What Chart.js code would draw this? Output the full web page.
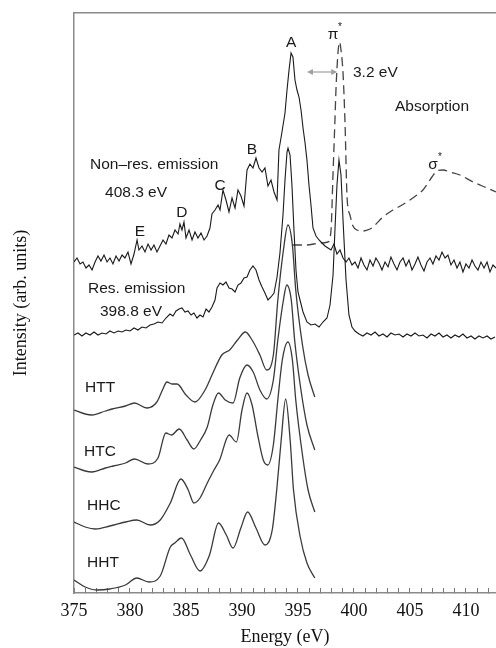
<!DOCTYPE html>
<html>
<head>
<meta charset="utf-8">
<script src="https://cdn.jsdelivr.net/npm/chart.js@4.4.0/dist/chart.umd.min.js"></script>
<style>
  html, body { margin: 0; padding: 0; background: #fff; }
  #wrap { width: 496px; height: 648px; position: relative; }
</style>
</head>
<body>
<div id="wrap"><canvas id="chart"></canvas></div>
<script>
// tick labels of the energy axis
const energyTicks = [375, 380, 385, 390, 395, 400, 405, 410];

// non-resonant emission (excited at 408.3 eV)
const nonResE = [
  375.00, 375.27, 375.54, 375.80, 376.07, 376.34, 376.61, 376.88, 377.14, 377.41,
  377.68, 377.95, 378.21, 378.48, 378.75, 379.02, 379.29, 379.55, 379.82, 380.09,
  380.36, 380.63, 380.80, 381.07, 381.34, 381.61, 381.88, 382.14, 382.41, 382.68,
  382.95, 383.21, 383.48, 383.75, 384.02, 384.29, 384.46, 384.64, 384.82, 385.00,
  385.27, 385.54, 385.80, 386.07, 386.34, 386.61, 386.88, 387.14, 387.32, 387.59,
  387.86, 388.04, 388.30, 388.57, 388.84, 389.11, 389.38, 389.64, 389.91, 390.18,
  390.45, 390.71, 390.98, 391.25, 391.52, 391.79, 392.05, 392.32, 392.59, 392.86,
  393.13, 393.30, 393.57, 393.84, 394.02, 394.20, 394.38, 394.55, 394.73, 394.91,
  395.09, 395.27, 395.45, 395.63, 395.80, 395.98, 396.16, 396.34, 396.61, 396.88,
  397.14, 397.41, 397.68, 397.95, 398.21, 398.48, 398.75, 399.02, 399.29, 399.55,
  399.82, 400.09, 400.36, 400.63, 400.89, 401.16, 401.43, 401.70, 401.96, 402.23,
  402.50, 402.77, 403.04, 403.30, 403.57, 403.84, 404.11, 404.38, 404.64, 404.91,
  405.18, 405.45, 405.71, 405.98, 406.25, 406.52, 406.79, 407.05, 407.32, 407.59,
  407.86, 408.13, 408.39, 408.66, 408.93, 409.20, 409.46, 409.73, 410.00, 410.27,
  410.54, 410.80, 411.07, 411.34, 411.61, 411.88, 412.14, 412.41, 412.68
];
const nonResI = [
  331, 335, 329, 331, 325, 328, 323, 331, 337, 332,
  338, 331, 335, 329, 337, 332, 338, 335, 341, 329,
  339, 353, 343, 347, 341, 349, 343, 348, 341, 347,
  353, 349, 358, 355, 363, 359, 369, 363, 371, 355,
  363, 353, 361, 355, 360, 353, 357, 365, 379, 383,
  388, 383, 403, 393, 381, 395, 385, 403, 397, 387,
  423, 429, 425, 435, 425, 421, 425, 407, 413, 401,
  393, 443, 461, 480, 503, 523, 540, 536, 513, 503,
  496, 483, 465, 450, 433, 408, 388, 365, 357, 353,
  350, 347, 345, 343, 349, 339, 343, 335, 331, 335,
  328, 331, 325, 335, 328, 323, 333, 327, 335, 330,
  323, 331, 326, 336, 329, 323, 331, 335, 327, 333,
  323, 329, 336, 328, 322, 331, 335, 329, 337, 333,
  341, 335, 338, 328, 333, 325, 331, 321, 329, 325,
  333, 327, 323, 331, 325, 331, 321, 328, 325
];

// resonant emission (excited at 398.8 eV)
const resE = [
  375.00, 375.36, 375.71, 376.07, 376.43, 376.79, 377.14, 377.50, 377.86, 378.21,
  378.57, 378.93, 379.29, 379.64, 380.00, 380.36, 380.71, 381.07, 381.43, 381.79,
  382.14, 382.50, 382.86, 383.21, 383.57, 383.84, 384.11, 384.38, 384.64, 384.91,
  385.18, 385.45, 385.71, 385.98, 386.25, 386.52, 386.79, 387.05, 387.32, 387.59,
  387.77, 388.04, 388.30, 388.57, 388.84, 389.11, 389.38, 389.64, 389.91, 390.18,
  390.45, 390.71, 390.98, 391.25, 391.52, 391.79, 392.05, 392.32, 392.59, 392.86,
  393.13, 393.39, 393.66, 393.84, 394.02, 394.11, 394.29, 394.46, 394.64, 394.82,
  395.00, 395.18, 395.45, 395.80, 396.16, 396.52, 396.88, 397.23, 397.59, 397.86,
  398.13, 398.30, 398.48, 398.66, 398.84, 399.02, 399.29, 399.55, 399.82, 400.09,
  400.45, 400.80, 401.16, 401.52, 401.88, 402.23, 402.59, 402.95, 403.30, 403.66,
  404.02, 404.38, 404.73, 405.09, 405.45, 405.80, 406.16, 406.52, 406.88, 407.23,
  407.59, 407.95, 408.30, 408.66, 409.02, 409.38, 409.73, 410.09, 410.45, 410.80,
  411.16, 411.52, 411.88, 412.23, 412.59
];
const resI = [
  258, 260, 257, 260, 258, 261, 258, 260, 259, 262,
  260, 262, 261, 263, 262, 265, 263, 266, 265, 268,
  269, 271, 270, 275, 279, 277, 282, 284, 285, 281,
  282, 278, 280, 275, 278, 276, 284, 281, 286, 293,
  305, 310, 308, 311, 305, 304, 301, 308, 310, 315,
  316, 323, 327, 323, 313, 306, 300, 293, 296, 300,
  316, 340, 378, 413, 441, 445, 438, 408, 363, 323,
  301, 293, 281, 271, 268, 269, 266, 271, 275, 288,
  318, 363, 408, 433, 418, 373, 313, 278, 266, 262,
  259, 257, 260, 258, 261, 257, 259, 256, 260, 258,
  259, 256, 259, 257, 260, 257, 258, 255, 259, 257,
  260, 256, 258, 255, 258, 256, 259, 255, 257, 254,
  257, 255, 257, 254, 256
];

// absorption (dashed)
const absE = [
  394.55, 395.80, 396.96, 397.68, 397.95, 398.13, 398.30, 398.39, 398.57, 398.71,
  398.84, 399.02, 399.20, 399.38, 399.64, 399.91, 400.27, 400.80, 401.43, 401.70,
  402.59, 403.48, 404.29, 405.00, 405.63, 406.16, 406.61, 406.96, 407.41, 407.95,
  408.57, 409.46, 410.63, 411.88, 412.68
];
const absI = [
  348, 348, 350, 351, 363, 420, 473, 503, 540, 551,
  543, 520, 470, 396, 378, 367, 363, 362, 364, 366,
  376, 383, 388, 393, 398, 403, 410, 416, 422, 423,
  421, 418, 411, 405, 401
];

// calculated spectra
const httE = [375.0, 376.0, 376.6, 377.8, 378.4, 379.6, 380.4, 381.5, 382.4, 382.9, 383.3, 383.75, 384.2, 385.0, 385.8, 386.7, 387.4, 388.2, 388.9, 389.6, 390.3, 390.9, 391.6, 392.2, 392.8, 393.2, 393.7, 394.1, 394.5, 394.8, 395.4, 395.9, 396.5];
const httI = [183, 179, 178, 182, 184, 187, 190, 185, 191, 203, 211, 209, 209, 198, 191, 203, 220, 238, 243, 253, 261, 253, 238, 223, 238, 293, 343, 368, 348, 303, 248, 218, 196];

const htcE = [375.0, 376.0, 376.6, 377.8, 378.5, 379.6, 380.4, 381.6, 382.5, 383.2, 383.7, 384.4, 385.1, 385.7, 386.3, 386.9, 387.4, 387.9, 388.5, 389.2, 389.8, 390.45, 391.0, 391.6, 392.2, 392.8, 393.2, 393.7, 394.0, 394.4, 394.7, 395.2, 395.8, 396.5];
const htcI = [126, 122, 121, 125, 127, 130, 134, 129, 135, 160, 158, 164, 153, 144, 153, 166, 188, 200, 193, 190, 215, 228, 221, 203, 194, 213, 253, 293, 308, 293, 253, 208, 168, 143];

const hhcE = [375.0, 376.0, 376.9, 378.2, 379.6, 380.6, 381.8, 382.7, 383.6, 384.55, 385.2, 385.7, 386.25, 386.9, 387.5, 388.0, 388.85, 389.5, 390.0, 390.45, 390.9, 391.4, 391.9, 392.3, 392.8, 393.2, 393.6, 394.1, 394.5, 394.8, 395.4, 395.9, 396.5];
const hhcI = [71, 66, 64, 67, 71, 73, 68, 73, 90, 114, 103, 90, 95, 110, 123, 133, 158, 151, 183, 200, 188, 158, 133, 128, 148, 193, 233, 251, 233, 193, 138, 103, 81];

const hhtE = [375.0, 376.0, 377.0, 378.2, 379.6, 380.6, 381.7, 382.7, 383.6, 384.0, 384.6, 385.4, 386.25, 387.1, 387.9, 388.6, 389.2, 389.9, 390.5, 391.25, 392.05, 392.7, 393.1, 393.5, 393.9, 394.3, 394.6, 395.2, 395.8, 396.5];
const hhtI = [13, 6, 3, 4, 8, 15, 11, 17, 46, 50, 55, 38, 22, 38, 70, 58, 45, 65, 81, 65, 48, 63, 103, 153, 194, 153, 103, 56, 30, 15];

// 3.2 eV shift arrow
const shiftFrom = 395.8, shiftTo = 398.5, shiftLevel = 521;

const serif = "'Liberation Serif', 'DejaVu Serif', serif";
const sans = "'Liberation Sans', Arial, sans-serif";

const notes = [
  { text: 'A', e: 394.38, i: 550, align: 'center' },
  { text: 'π', e: 398.13, i: 558, align: 'center', sup: '*' },
  { text: '3.2 eV', e: 399.91, i: 520 },
  { text: 'Absorption', e: 403.66, i: 486 },
  { text: 'σ', e: 407.05, i: 428, align: 'center', sup: '*' },
  { text: 'B', e: 390.89, i: 443, align: 'center' },
  { text: 'Non–res. emission', e: 376.43, i: 428 },
  { text: '408.3 eV', e: 377.77, i: 400 },
  { text: 'C', e: 388.04, i: 407, align: 'center' },
  { text: 'D', e: 384.64, i: 380, align: 'center' },
  { text: 'E', e: 380.89, i: 361, align: 'center' },
  { text: 'Res. emission', e: 376.25, i: 304 },
  { text: '398.8 eV', e: 377.32, i: 281 },
  { text: 'HTT', e: 375.98, i: 205 },
  { text: 'HTC', e: 375.89, i: 141 },
  { text: 'HHC', e: 376.16, i: 87 },
  { text: 'HHT', e: 376.16, i: 30 }
];

function series(es, is) {
  return es.map((e, k) => ({ x: e, y: is[k] }));
}

function noisy(data) {
  return { data, borderColor: '#1a1a1a', borderWidth: 1.1, pointRadius: 0, tension: 0, fill: false };
}

function model(data) {
  return { data, borderColor: '#3a3a3a', borderWidth: 1.3, pointRadius: 0, cubicInterpolationMode: 'monotone', fill: false };
}

// no extra side padding for the horizontal axes, the plot runs to the right edge
function flatSides(s) {
  s.paddingLeft = 0;
  s.paddingRight = 0;
}

const notesPlugin = {
  id: 'notes',
  afterDatasetsDraw(chart) {
    const { ctx, scales: { x, y } } = chart;
    ctx.save();

    // double arrow for the 3.2 eV shift
    const x1 = x.getPixelForValue(shiftFrom);
    const x2 = x.getPixelForValue(shiftTo);
    const yy = y.getPixelForValue(shiftLevel);
    ctx.strokeStyle = '#a0a0a0';
    ctx.fillStyle = '#a0a0a0';
    ctx.lineWidth = 1.2;
    ctx.beginPath();
    ctx.moveTo(x1 + 3, yy);
    ctx.lineTo(x2 - 3, yy);
    ctx.stroke();
    [[x1, 1], [x2, -1]].forEach(([px, d]) => {
      ctx.beginPath();
      ctx.moveTo(px, yy);
      ctx.lineTo(px + 6 * d, yy - 3);
      ctx.lineTo(px + 6 * d, yy + 3);
      ctx.closePath();
      ctx.fill();
    });

    ctx.fillStyle = '#1a1a1a';
    ctx.textBaseline = 'middle';
    notes.forEach(n => {
      const px = x.getPixelForValue(n.e);
      const py = y.getPixelForValue(n.i);
      ctx.font = '15.5px ' + sans;
      ctx.textAlign = n.align || 'left';
      ctx.fillText(n.text, px, py);
      if (n.sup) {
        ctx.font = '10px ' + sans;
        ctx.textAlign = 'left';
        ctx.fillText(n.sup, px + 5, py - 8);
      }
    });
    ctx.restore();
  }
};

new Chart(document.getElementById('chart'), {
  type: 'line',
  data: {
    datasets: [
      noisy(series(nonResE, nonResI)),
      noisy(series(resE, resI)),
      {
        data: series(absE, absI), borderColor: '#444', borderWidth: 1.3,
        borderDash: [9, 5], pointRadius: 0, cubicInterpolationMode: 'monotone', fill: false
      },
      model(series(httE, httI)),
      model(series(htcE, htcI)),
      model(series(hhcE, hhcI)),
      model(series(hhtE, hhtI))
    ]
  },
  options: {
    responsive: true,
    maintainAspectRatio: false,
    animation: false,
    layout: { padding: { top: 13, left: 0, right: 0, bottom: 0 } },
    plugins: { legend: { display: false }, tooltip: { enabled: false } },
    scales: {
      x: {
        type: 'linear', position: 'bottom', min: 375, max: 412.68,
        afterFit: s => { s.height = 55; flatSides(s); },
        border: { display: true, color: '#8a8a8a', width: 1.5 },
        grid: { display: true, drawOnChartArea: false, drawTicks: true, tickLength: -5, tickColor: '#777', tickWidth: 1 },
        ticks: {
          stepSize: 1, autoSkip: false, maxRotation: 0, includeBounds: false, padding: 12,
          color: '#111', font: { family: serif, size: 18 },
          callback: v => energyTicks.includes(v) ? String(v) : ''
        },
        title: { display: true, text: 'Energy (eV)', color: '#111', font: { family: serif, size: 18 }, padding: 0 }
      },
      top: {
        type: 'linear', axis: 'x', position: 'top', min: 375, max: 412.68,
        afterFit: s => { s.height = 0; flatSides(s); },
        border: { display: true, color: '#8a8a8a', width: 1.5 },
        grid: { display: false },
        ticks: { display: false }
      },
      y: {
        min: 0, max: 580,
        afterFit: s => { s.width = 74; },
        border: { display: true, color: '#8a8a8a', width: 1.5 },
        grid: { display: false },
        ticks: { display: false },
        title: {
          display: true, text: 'Intensity (arb. units)', color: '#111',
          font: { family: serif, size: 18 }, padding: { top: 10, bottom: 0 }
        }
      }
    }
  },
  plugins: [notesPlugin]
});
</script>
</body>
</html>
